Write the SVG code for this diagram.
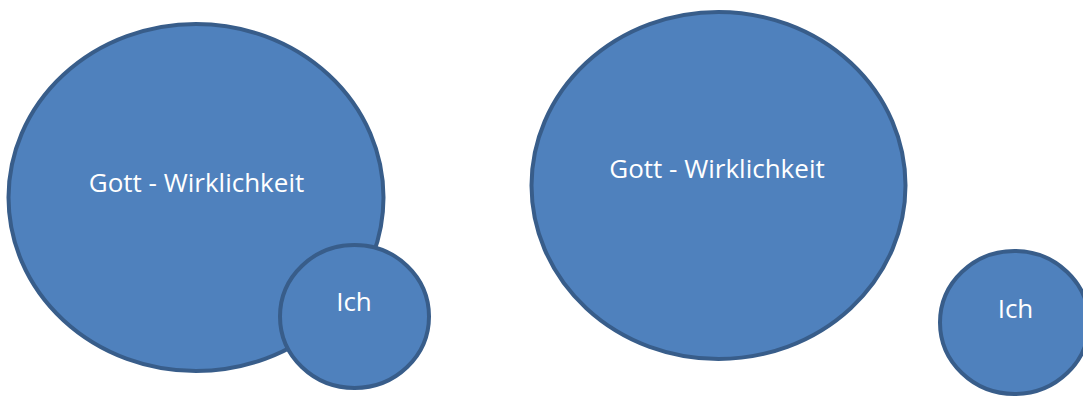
<svg xmlns="http://www.w3.org/2000/svg" width="1083" height="396" viewBox="0 0 1083 396">
  <style>
    .shape { fill: #4f81bd; stroke: #385d8a; stroke-width: 4; }
    .label { fill: #ffffff; font-family: "Open Sans", "Noto Sans", sans-serif; font-size: 26px; text-anchor: middle; }
  </style>
  <rect width="1083" height="396" fill="#ffffff"/>

  <!-- Left pair: overlapping -->
  <g id="gott-left">
    <ellipse class="shape" cx="196" cy="197.5" rx="187.5" ry="173.5"/>
    <text class="label" x="196.5" y="192">Gott - Wirklichkeit</text>
  </g>
  <g id="ich-left">
    <ellipse class="shape" cx="354.5" cy="316.5" rx="74.5" ry="71.5"/>
    <text class="label" x="354" y="311">Ich</text>
  </g>

  <!-- Right pair: separated -->
  <g id="gott-right">
    <ellipse class="shape" cx="718.5" cy="185.5" rx="187" ry="173.5"/>
    <text class="label" x="717" y="178">Gott - Wirklichkeit</text>
  </g>
  <g id="ich-right">
    <ellipse class="shape" cx="1014.5" cy="322.5" rx="74.5" ry="71.5"/>
    <text class="label" x="1015.5" y="318">Ich</text>
  </g>

  <g id="connectors"/>
</svg>
